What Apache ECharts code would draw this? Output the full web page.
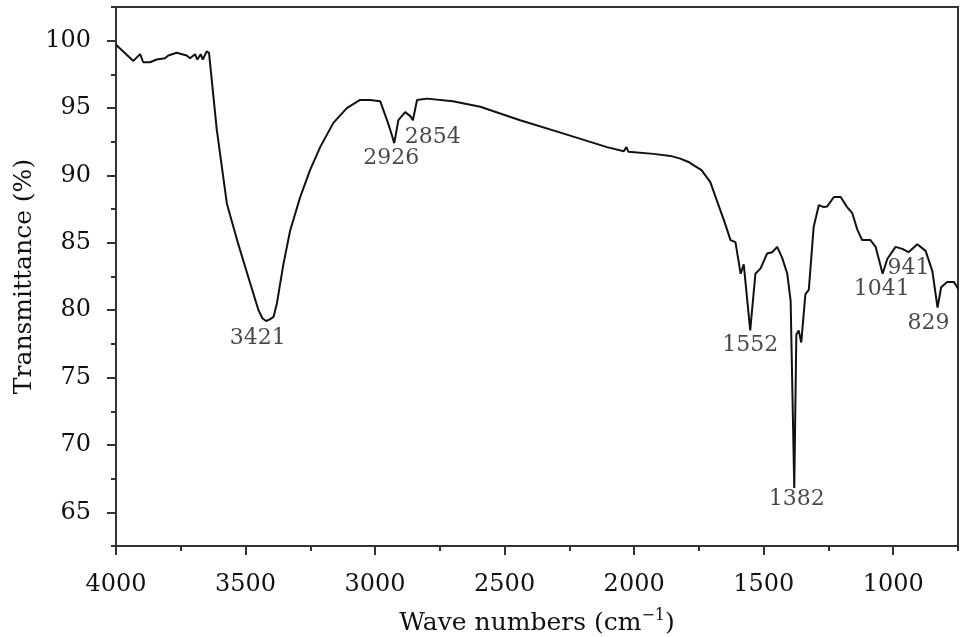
<!DOCTYPE html>
<html>
<head>
<meta charset="utf-8">
<script src="https://cdn.jsdelivr.net/npm/echarts@6/dist/echarts.min.js"></script>
<style>
  html, body { margin: 0; padding: 0; background: #fff; }
  #ori { width: 969px; height: 637px; }
</style>
</head>
<body>
<div id="ori"></div>
<script>
// spectrum: wave number (cm-1) and transmittance (%)
var waveNumbers = [
  4000, 3933, 3907, 3895, 3869, 3843, 3811, 3798, 3766, 3727, 3714, 3695, 3686, 3673, 3665, 3650, 3641,
  3611, 3572, 3528, 3482, 3450, 3435, 3421, 3408, 3392, 3379, 3354, 3328, 3289, 3251, 3212, 3161, 3109,
  3058, 3019, 2980, 2954, 2940, 2926, 2910, 2884, 2864, 2854, 2838, 2800, 2700, 2594, 2440, 2272, 2105,
  2040, 2030, 2022, 1925, 1860, 1822, 1790, 1770, 1740, 1706, 1680, 1654, 1628, 1609, 1589, 1577, 1552,
  1532, 1512, 1487, 1467, 1448, 1429, 1409, 1396, 1382, 1374, 1365, 1355, 1339, 1326, 1307, 1287, 1268,
  1255, 1229, 1203, 1178, 1158, 1139, 1120, 1088, 1068, 1041, 1023, 991, 965, 941, 907, 875, 849, 829,
  815, 792, 766, 753, 750
];
var transmittance = [
  99.7, 98.5, 99.0, 98.4, 98.4, 98.6, 98.7, 98.9, 99.1, 98.9, 98.7, 99.0, 98.6, 99.0, 98.6, 99.2, 99.1,
  93.4, 87.9, 84.9, 82.0, 80.0, 79.4, 79.2, 79.3, 79.5, 80.5, 83.4, 85.9, 88.4, 90.4, 92.1, 93.9, 95.0,
  95.6, 95.6, 95.5, 94.1, 93.3, 92.4, 94.1, 94.7, 94.4, 94.1, 95.6, 95.7, 95.5, 95.1, 94.1, 93.1, 92.1,
  91.8, 92.1, 91.75, 91.6, 91.45, 91.25, 91.0, 90.75, 90.4, 89.5, 88.1, 86.7, 85.2, 85.05, 82.7, 83.4, 78.5,
  82.7, 83.1, 84.2, 84.3, 84.7, 83.9, 82.7, 80.7, 66.8, 78.2, 78.5, 77.6, 81.2, 81.5, 86.2, 87.8, 87.65,
  87.7, 88.4, 88.4, 87.65, 87.2, 86.0, 85.2, 85.2, 84.7, 82.7, 83.8, 84.7, 84.55, 84.3, 84.9, 84.4, 82.9, 80.2,
  81.7, 82.1, 82.1, 81.7, 81.6
];

// peak annotations: text and where the text sits (data coords)
var peakLabels = ['3421', '2926', '2854', '1552', '1382', '1041', '941', '829'];
var peakLabelWave = [3453, 2938, 2777, 1552, 1372, 1044, 941, 864];
var peakLabelT = [77.9, 91.25, 92.8, 77.36, 65.95, 81.58, 83.14, 79.0];

// axis ticks
var xMajorTicks = [1000, 1500, 2000, 2500, 3000, 3500, 4000];
var yMajorTicks = [65, 70, 75, 80, 85, 90, 95, 100];

var serif = 'DejaVu Serif';
var axisColor = '#333';
var textColor = '#111';

var spectrum = waveNumbers.map(function (w, i) { return [w, transmittance[i]]; });
var peaks = peakLabels.map(function (t, i) { return [peakLabelWave[i], peakLabelT[i], t]; });
var plain = function (v) { return String(v); };

option = {
    animation: false,
    backgroundColor: '#fff',
    grid: {
        left: 116,
        right: 11,
        top: 7,
        bottom: 91,
        outerBoundsMode: 'none',
        show: true,
        borderColor: axisColor,
        borderWidth: 2
    },
    xAxis: [
        {
            type: 'value',
            inverse: true,
            min: 750,
            max: 4000,
            interval: 250,
            position: 'bottom',
            splitLine: {show: false},
            axisLine: {lineStyle: {color: axisColor, width: 2}},
            axisTick: {length: 5, lineStyle: {color: axisColor, width: 2}},
            axisLabel: {show: false},
            name: '{a|Wave numbers (cm}{sup|−1}{a|)}',
            nameLocation: 'middle',
            nameGap: 62,
            nameTextStyle: {
                rich: {
                    a: {fontFamily: serif, fontSize: 25, color: textColor, lineHeight: 30},
                    sup: {fontFamily: serif, fontSize: 16, color: textColor, lineHeight: 18, verticalAlign: 'top'}
                }
            }
        },
        {
            type: 'value',
            inverse: true,
            min: 750,
            max: 4000,
            interval: 250,
            position: 'bottom',
            splitLine: {show: false},
            axisLine: {show: false},
            axisTick: {customValues: xMajorTicks, length: 9, lineStyle: {color: axisColor, width: 2}},
            axisLabel: {customValues: xMajorTicks, formatter: plain, margin: 27, fontFamily: serif, fontSize: 24, color: textColor}
        }
    ],
    yAxis: [
        {
            type: 'value',
            min: 62.5,
            max: 102.5,
            interval: 2.5,
            position: 'left',
            splitLine: {show: false},
            axisLine: {show: true, lineStyle: {color: axisColor, width: 2}},
            axisTick: {show: true, length: 5, lineStyle: {color: axisColor, width: 2}},
            axisLabel: {show: false},
            name: 'Transmittance (%)',
            nameLocation: 'middle',
            nameGap: 79,
            nameTextStyle: {fontFamily: serif, fontSize: 25, color: textColor}
        },
        {
            type: 'value',
            min: 62.5,
            max: 102.5,
            interval: 2.5,
            position: 'left',
            splitLine: {show: false},
            axisLine: {show: false},
            axisTick: {show: true, customValues: yMajorTicks, length: 9, lineStyle: {color: axisColor, width: 2}},
            axisLabel: {customValues: yMajorTicks, formatter: plain, margin: 25, fontFamily: serif, fontSize: 24, color: textColor}
        }
    ],
    series: [
        {
            name: 'FTIR',
            type: 'line',
            data: spectrum,
            showSymbol: false,
            symbol: 'none',
            lineStyle: {color: '#111', width: 2},
            z: 3
        },
        {
            name: 'peaks',
            type: 'scatter',
            data: peaks,
            symbolSize: 1,
            itemStyle: {color: 'rgba(0,0,0,0)'},
            label: {
                show: true,
                position: 'inside',
                formatter: function (p) { return p.data[2]; },
                fontFamily: serif,
                fontSize: 22,
                color: '#1a1a1a'
            },
            z: 4
        }
    ]
};

var dom3 = echarts.init(document.getElementById('ori'));
dom3.setOption(option);
</script>
</body>
</html>
